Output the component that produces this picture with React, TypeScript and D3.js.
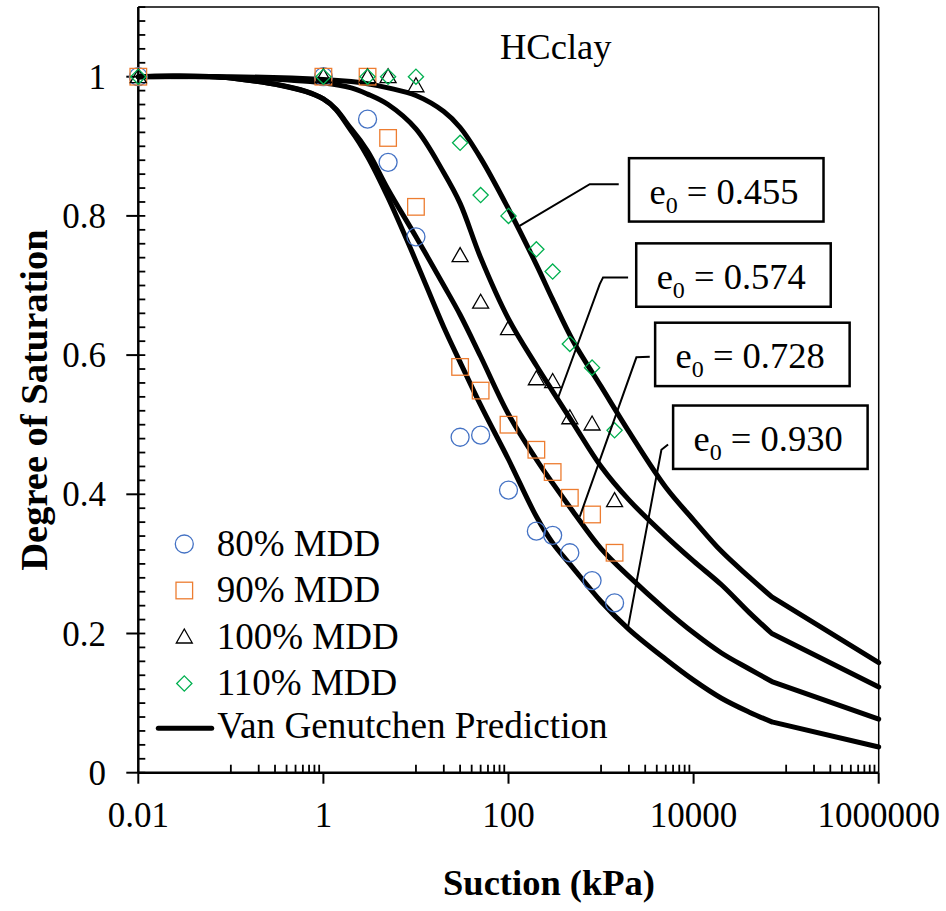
import React from "react";
import * as d3 from "d3";

// ---------- data ----------
const suctionData = [0.01, 1, 3, 5, 10, 30, 50, 100, 200, 300, 460, 800, 1400];
const mdd80 = [1, 1, 0.939, 0.877, 0.770, 0.482, 0.485, 0.406, 0.347, 0.341, 0.316, 0.276, 0.244];
const mdd90 = [1, 1, 1, 0.912, 0.813, 0.583, 0.549, 0.500, 0.464, 0.432, 0.395, 0.371, 0.316];
const mdd100 = [1, 1, 1, 1, 0.987, 0.743, 0.676, 0.638, 0.566, 0.562, 0.510, 0.501, 0.391];
const mdd110 = [1, 1, 1, 1, 1, 0.905, 0.830, 0.800, 0.752, 0.720, 0.616, 0.582, 0.492];

// Van Genuchten prediction curves
const suctionCurve = [0.01, 0.1, 1, 2, 3, 5, 10, 20, 30, 50, 100, 200, 300, 500, 1000, 2000, 5000, 10000, 20000, 40000, 70000, 1000000];
const vgE0455 = [1.000, 1.000, 0.996, 0.993, 0.990, 0.984, 0.973, 0.950, 0.927, 0.883, 0.810, 0.730, 0.680, 0.620, 0.555, 0.490, 0.410, 0.363, 0.318, 0.281, 0.2525, 0.158];
const vgE0574 = [1.000, 0.999, 0.991, 0.984, 0.975, 0.960, 0.925, 0.862, 0.818, 0.740, 0.652, 0.585, 0.548, 0.502, 0.440, 0.392, 0.340, 0.304, 0.270, 0.230, 0.200, 0.123];
const vgE0728 = [1.000, 0.998, 0.968, 0.925, 0.893, 0.838, 0.770, 0.700, 0.658, 0.598, 0.515, 0.450, 0.416, 0.375, 0.322, 0.282, 0.234, 0.201, 0.172, 0.149, 0.131, 0.077];
const vgE0930 = [1.000, 0.998, 0.968, 0.922, 0.885, 0.826, 0.735, 0.640, 0.590, 0.528, 0.450, 0.368, 0.330, 0.294, 0.246, 0.206, 0.163, 0.133, 0.107, 0.087, 0.073, 0.037];

const xMajorTicks = [0.01, 1, 100, 10000, 1000000];
const xMajorLabels = ["0.01", "1", "100", "10000", "1000000"];
const xMinorDecades = [0.1, 10, 1000, 100000];
const yMajorTicks = [0, 0.2, 0.4, 0.6, 0.8, 1];
const yMajorLabels = ["0", "0.2", "0.4", "0.6", "0.8", "1"];

const seriesNames = ["80% MDD", "90% MDD", "100% MDD", "110% MDD"];
const lineName = "Van Genutchen Prediction";
const e0Labels = ["0.455", "0.574", "0.728", "0.930"];
// label box centres (suction, saturation)
const e0BoxCenters: [number, number][] = [[22400, 0.8374], [26800, 0.715], [42900, 0.601], [67100, 0.482]];
// leader polylines (suction, saturation)
const e0Leaders: [number, number][][] = [
  [[1553, 0.8456], [755, 0.8456], [129, 0.785]],
  [[1960, 0.7116], [1052, 0.7116], [968, 0.702], [344, 0.5391]],
  [[3360, 0.5978], [2410, 0.5968], [589, 0.368]],
  [[5300, 0.4716], [4490, 0.464], [1960, 0.2095]],
];

const FONT = "'Liberation Serif', 'Times New Roman', serif";
const COLORS = ["#4472C4", "#ED7D31", "#000000", "#00B050"];

function Marker({ kind, cx, cy, color }: { kind: number; cx: number; cy: number; color: string }) {
  const common = { fill: "none", stroke: color, strokeWidth: 1.3 };
  if (kind === 0) return <circle cx={cx} cy={cy} r={9} {...common} />;
  if (kind === 1) return <rect x={cx - 8.3} y={cy - 8.3} width={16.6} height={16.6} {...common} />;
  if (kind === 2) return <path d={`M${cx},${cy - 8}L${cx + 8},${cy + 6}L${cx - 8},${cy + 6}Z`} {...common} />;
  return <path d={`M${cx},${cy - 7.6}L${cx + 7.6},${cy}L${cx},${cy + 7.6}L${cx - 7.6},${cy}Z`} {...common} />;
}

export default function App() {
  const x = d3.scaleLog().domain([0.01, 1000000]).range([138.3, 878.7]);
  const y = d3.scaleLinear().domain([0, 1.1]).range([772.7, 7.1]);
  const x0 = x.range()[0], x1 = x.range()[1];
  const y0 = y.range()[0], y1 = y.range()[1];

  const series = [mdd80, mdd90, mdd100, mdd110];
  const curves = [vgE0455, vgE0574, vgE0728, vgE0930];
  const lin = d3.line<[number, number]>().x(d => x(d[0])).y(d => y(d[1]));
  const smooth = d3.line<[number, number]>().x(d => x(d[0])).y(d => y(d[1])).curve(d3.curveCatmullRom.alpha(0.5));

  const curvePath = (vals: number[]) => {
    const pts = suctionCurve.map((s, j) => [s, vals[j]] as [number, number]);
    const iKnee = suctionCurve.indexOf(70000);
    return (smooth(pts.slice(0, iKnee + 1)) || "") + (lin(pts.slice(iKnee)) || "");
  };

  const xMinor: number[] = [];
  xMinorDecades.forEach(dec => { for (let m = 1; m <= 9; m++) xMinor.push(dec * m); });
  const yMinor = d3.range(0, 56).map(i => i * 0.02).filter(v => v <= 1.1001);

  const legendY = [544, 590.5, 637, 683.5];
  const legendLineY = 728.3;

  return (
    <svg width={946} height={911} style={{ position: "absolute", left: 0, top: 0, background: "#fff" }} fontFamily={FONT}>
      <rect x={0} y={0} width={946} height={911} fill="#fff" />
      {/* frame */}
      <line x1={x0} x2={x1} y1={y1} y2={y1} stroke="#000" strokeWidth={1.5} />
      <line x1={x1} x2={x1} y1={y1} y2={y0} stroke="#000" strokeWidth={1.5} />
      {/* y minor ticks (inside) */}
      {yMinor.map((v, i) => (
        <line key={"ym" + i} x1={x0} x2={x0 + 7} y1={y(v)} y2={y(v)} stroke="#000" strokeWidth={1.8} />
      ))}
      {/* y major ticks (outside) */}
      {yMajorTicks.map((v, i) => (
        <g key={"yM" + i}>
          <line x1={x0 - 12} x2={x0} y1={y(v)} y2={y(v)} stroke="#000" strokeWidth={2} />
          <text x={106} y={y(v) + 12} textAnchor="end" fontSize={35}>{yMajorLabels[i]}</text>
        </g>
      ))}
      {/* x minor ticks (inside) */}
      {xMinor.map((v, i) => (
        <line key={"xm" + i} x1={x(v)} x2={x(v)} y1={y0 - 8} y2={y0} stroke="#000" strokeWidth={1.8} />
      ))}
      {xMajorTicks.map((v, i) => (
        <g key={"xM" + i}>
          <line x1={x(v)} x2={x(v)} y1={y0} y2={y0 + 11} stroke="#000" strokeWidth={2} />
          <text x={x(v)} y={826.5} textAnchor="middle" fontSize={35}>{xMajorLabels[i]}</text>
        </g>
      ))}
      {/* axes */}
      <line x1={x0} x2={x0} y1={y1} y2={y0} stroke="#000" strokeWidth={2.5} />
      <line x1={x0} x2={x1} y1={y0} y2={y0} stroke="#000" strokeWidth={2.5} />

      {/* curves */}
      {curves.map((c, i) => (
        <path key={"c" + i} d={curvePath(c)}
          fill="none" stroke="#000" strokeWidth={5} strokeLinejoin="round" strokeLinecap="round" />
      ))}

      {/* markers */}
      {series.map((vals, k) => (
        <g key={"s" + k}>
          {vals.map((v, j) => (
            <Marker key={j} kind={k} cx={x(suctionData[j])} cy={y(v)} color={COLORS[k]} />
          ))}
        </g>
      ))}

      {/* e0 labels */}
      {e0Labels.map((lab, i) => {
        const cx = x(e0BoxCenters[i][0]);
        const cy = y(e0BoxCenters[i][1]);
        return (
          <g key={"e" + i}>
            <path d={lin(e0Leaders[i]) || ""} fill="none" stroke="#000" strokeWidth={2} />
            <rect x={cx - 97} y={cy - 31.7} width={194.5} height={63.4} fill="#fff" stroke="#000" strokeWidth={2.5} />
            <text x={cx - 2} y={cy + 13.7} textAnchor="middle" fontSize={36.5} style={{ whiteSpace: "pre" }}>
              e<tspan dy={9} fontSize={24}>0</tspan><tspan dy={-9}>{" = " + lab}</tspan>
            </text>
          </g>
        );
      })}

      {/* HCclay */}
      <text x={500} y={59} fontSize={36.5}>HCclay</text>

      {/* legend */}
      {seriesNames.map((n, k) => (
        <g key={"l" + k}>
          <Marker kind={k} cx={184.3} cy={legendY[k]} color={COLORS[k]} />
          <text x={216.7} y={legendY[k] + 11.5} fontSize={37}>{n}</text>
        </g>
      ))}
      <line x1={158.3} x2={211.7} y1={legendLineY} y2={legendLineY} stroke="#000" strokeWidth={5} strokeLinecap="round" />
      <text x={217.3} y={legendLineY + 10} fontSize={37.2}>{lineName}</text>

      {/* axis titles */}
      <text x={549} y={895} textAnchor="middle" fontSize={36.5} fontWeight="bold">Suction (kPa)</text>
      <text transform="translate(47,400) rotate(-90)" textAnchor="middle" fontSize={38.5} fontWeight="bold">Degree of Saturation</text>
    </svg>
  );
}
